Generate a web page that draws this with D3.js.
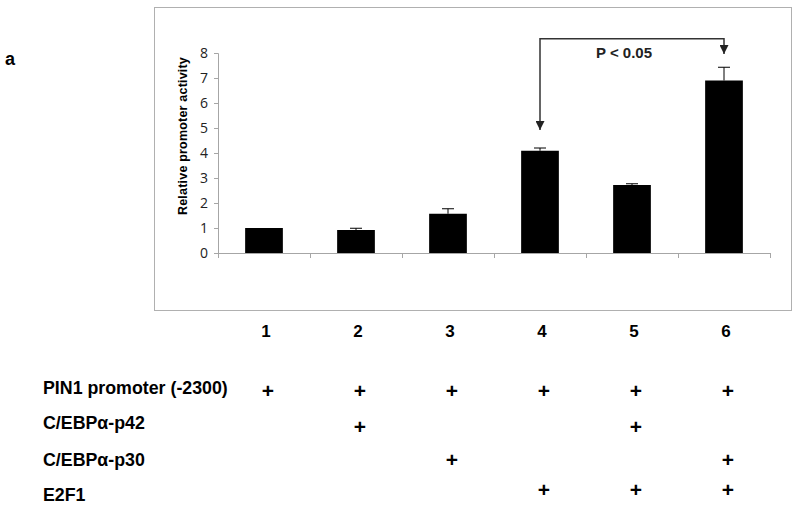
<!DOCTYPE html>
<meta charset="utf-8">
<style>
body{margin:0;background:#fff;}
text{font-family:Arial,"Liberation Sans",sans-serif;}
.tick text{font-size:14px;font-family:"Open Sans","DejaVu Sans",sans-serif;fill:#222;}
.domain,.tick line{stroke:#a6a6a6;}
.lbl{font-weight:bold;}
</style>
<body>
<script src="https://cdn.jsdelivr.net/npm/d3@7"></script>
<script>
// data
var lanes = ["1","2","3","4","5","6"];
var activity = [1.0, 0.92, 1.57, 4.09, 2.72, 6.9];
var errs = [0, 0.07, 0.2, 0.11, 0.05, 0.53];
var yTicks = [0,1,2,3,4,5,6,7,8];
var rowNames = ["PIN1 promoter (-2300)", "C/EBPα-p42", "C/EBPα-p30", "E2F1"];
var rowPlus = [
  [1,1,1,1,1,1],
  [0,1,0,0,1,0],
  [0,0,1,0,0,1],
  [0,0,0,1,1,1]
];
var sigPair = ["4","6"];
var sigText = "P < 0.05";

var W = 800, H = 505;
var svg = d3.select("body").append("svg").attr("width",W).attr("height",H);

// outer plot frame
svg.append("rect").attr("x",154.5).attr("y",7.5).attr("width",637).attr("height",303)
  .attr("fill","none").attr("stroke","#b0b0b0");

svg.append("text").attr("class","lbl").attr("x",5).attr("y",65)
  .style("font-size","18px").text("a");

var x = d3.scaleBand().domain(lanes).range([218,770]).paddingInner(0.59).paddingOuter(0.295);
var y = d3.scaleLinear().domain([0,8]).range([253,53]);

// y axis
svg.append("g").attr("transform","translate(218,0)")
  .call(d3.axisLeft(y).tickValues(yTicks).tickSize(4).tickPadding(6));

// x axis with ticks between categories
var xEdges = lanes.map(function(d){ return x(d) - x.step()*x.paddingInner()/2; });
xEdges.push(770);
var xa = svg.append("g");
xa.append("line").attr("x1",218).attr("x2",770).attr("y1",253.5).attr("y2",253.5)
  .attr("stroke","#a6a6a6");
xa.selectAll("line.t").data(xEdges).enter().append("line").attr("class","t")
  .attr("x1",d=>Math.round(d)+0.5).attr("x2",d=>Math.round(d)+0.5)
  .attr("y1",253).attr("y2",258).attr("stroke","#a6a6a6");

svg.append("text").attr("class","lbl")
  .attr("transform","translate(187,136) rotate(-90)")
  .attr("text-anchor","middle")
  .style("font-size","12.5px").style("letter-spacing","0.2px")
  .text("Relative promoter activity");

// bars
svg.selectAll("rect.bar").data(lanes).enter().append("rect").attr("class","bar")
  .attr("x",d=>x(d)).attr("width",x.bandwidth())
  .attr("y",(d,i)=>y(activity[i])).attr("height",(d,i)=>y(0)-y(activity[i]))
  .attr("fill","#000");

// error bars
var eg = svg.selectAll("g.err").data(lanes).enter().append("g").attr("class","err")
  .filter((d,i)=>errs[i]>0);
eg.append("line")
  .attr("x1",d=>x(d)+x.bandwidth()/2).attr("x2",d=>x(d)+x.bandwidth()/2)
  .attr("y1",d=>y(activity[lanes.indexOf(d)]))
  .attr("y2",d=>y(activity[lanes.indexOf(d)]+errs[lanes.indexOf(d)]))
  .attr("stroke","#000");
eg.append("line")
  .attr("x1",d=>x(d)+x.bandwidth()/2-6).attr("x2",d=>x(d)+x.bandwidth()/2+6)
  .attr("y1",d=>y(activity[lanes.indexOf(d)]+errs[lanes.indexOf(d)]))
  .attr("y2",d=>y(activity[lanes.indexOf(d)]+errs[lanes.indexOf(d)]))
  .attr("stroke","#000");

// significance bracket
var defs = svg.append("defs");
defs.append("marker").attr("id","arr").attr("viewBox","0 0 10 10")
  .attr("refX",10).attr("refY",5).attr("markerWidth",9).attr("markerHeight",9)
  .attr("markerUnits","userSpaceOnUse").attr("orient","auto-start-reverse")
  .append("path").attr("d","M0,0L10,5L0,10Z").attr("fill","#222");
var i4 = lanes.indexOf(sigPair[0]), i6 = lanes.indexOf(sigPair[1]);
var bx1 = x(sigPair[0])+x.bandwidth()/2, bx2 = x(sigPair[1])+x.bandwidth()/2;
var bTop = y(8.57);
svg.append("path")
  .attr("d","M"+bx1+","+y(activity[i4]+errs[i4]+0.72)+"L"+bx1+","+bTop+"L"+bx2+","+bTop+"L"+bx2+","+y(activity[i6]+errs[i6]+0.53))
  .attr("fill","none").attr("stroke","#333").attr("stroke-width",1.5)
  .attr("marker-start","url(#arr)").attr("marker-end","url(#arr)");
svg.append("text").attr("class","lbl").attr("x",(bx1+bx2)/2-8).attr("y",58)
  .attr("text-anchor","middle").style("font-size","15px").style("fill","#222").text(sigText);

// lane numbers
svg.selectAll("text.lane").data(lanes).enter().append("text").attr("class","lbl lane")
  .attr("x",d=>x(d)+x.bandwidth()/2+2).attr("y",337)
  .attr("text-anchor","middle").style("font-size","17px").text(d=>d);

// treatment table
var rowY = [394, 429, 466, 501];
var plusY = [398, 434, 467, 497];
svg.selectAll("text.row").data(rowNames).enter().append("text").attr("class","lbl row")
  .attr("x",43).attr("y",(d,i)=>rowY[i]).style("font-size","17.8px").text(d=>d);
rowPlus.forEach(function(r,ri){
  svg.selectAll(null).data(lanes.filter((d,i)=>r[i])).enter().append("text").attr("class","lbl")
    .attr("x",d=>x(d)+x.bandwidth()/2+4).attr("y",plusY[ri])
    .attr("text-anchor","middle").style("font-size","21px").text("+");
});
</script>
</body>
